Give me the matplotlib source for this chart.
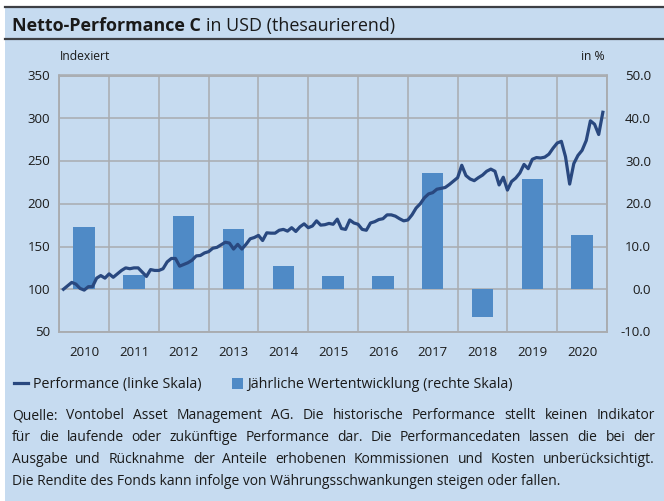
import numpy as np
import matplotlib
matplotlib.use("Agg")
import matplotlib.pyplot as plt
import matplotlib.transforms as mtrans
from matplotlib.patches import Rectangle
from matplotlib.lines import Line2D

plt.rcParams['font.family'] = ['Open Sans', 'DejaVu Sans']

# monthly performance index (left scale), Jan 2010 .. Nov 2020
perf = [100, 104, 108, 106, 101, 99, 103, 103, 113, 116, 113, 118,
        114, 118, 122, 125, 124, 125, 125, 120, 115, 123, 122, 122,
        124, 132, 136, 136, 127, 129, 131, 134, 139, 139.5, 142.5, 144,
        148, 149, 152, 155, 154, 147, 152.5, 147, 152.5, 159, 160.5, 163,
        157, 166, 165.6, 165.6, 169, 170, 168, 172, 167.6, 173, 176.5, 172,
        174, 180, 175, 175.5, 177, 176, 182, 171, 170, 181, 177.5, 176,
        170, 169, 177.5, 179, 181.5, 182.5, 187, 187, 185.5, 182.5, 180, 181,
        187, 195, 200, 207, 211.5, 213, 217, 218, 219, 222.5, 226.5, 230.5,
        245, 233, 229, 227, 230.5, 233.5, 238, 240.5, 238, 222, 231, 216,
        226, 230, 236, 246, 241, 252, 254, 253.5, 254.5, 258, 265, 271,
        273, 255, 223, 247, 256.5, 262.5, 274, 297, 293, 281, 307]

# yearly returns in % (right scale)
years = ["2010", "2011", "2012", "2013", "2014", "2015",
         "2016", "2017", "2018", "2019", "2020"]
yearly = [14.6, 3.3, 17.2, 14.1, 5.4, 3.1, 3.1, 27.2, -6.4, 25.9, 12.7]

left_ticks = [50, 100, 150, 200, 250, 300, 350]
right_ticks = [-10, 0, 10, 20, 30, 40, 50]

footnote = [
    "Quelle: Vontobel Asset Management AG. Die historische Performance stellt keinen Indikator",
    "für die laufende oder zukünftige Performance dar. Die Performancedaten lassen die bei der",
    "Ausgabe und Rücknahme der Anteile erhobenen Kommissionen und Kosten unberücksichtigt.",
    "Die Rendite des Fonds kann infolge von Währungsschwankungen steigen oder fallen.",
]

bg = "#c6dbf0"
navy = "#29487f"
barc = "#4f8ac6"
gridc = "#a9acb0"
txt = "#1a1a1a"
fs_tick = 9.5
fs_text = 10.0

W, H = 664, 502
fig = plt.figure(figsize=(W / 100, H / 100), dpi=100)
fig.patch.set_facecolor("white")

def fx(px): return px / W
def fy(py): return 1 - py / H

# panel background and header rules
fig.patches.append(Rectangle((fx(5), 0), 1 - fx(5), fy(7), transform=fig.transFigure,
                             facecolor=bg, edgecolor="none", zorder=-5))
fig.add_artist(Line2D([fx(5), 1], [fy(7.5), fy(7.5)], color="#3d3f44", lw=1.6))
fig.add_artist(Line2D([fx(5), 1], [fy(40), fy(40)], color="#3d3f44", lw=1.6))

t1 = fig.text(fx(12), fy(31), "Netto-Performance C", fontsize=12.9, fontweight="bold",
              color=txt, va="baseline")
fig.canvas.draw()
bb = t1.get_window_extent()
fig.text(bb.x1 / W + fx(5), fy(31), "in USD (thesaurierend)", fontsize=12.9,
         color=txt, va="baseline")

# axes: bars on the right scale underneath, line on the left scale on top
left, right, top, bottom = 59.3, 607, 76.5, 333
ax2 = fig.add_axes([fx(left), fy(bottom), fx(right - left), (bottom - top) / H])
ax = ax2.twinx()
ax.set_zorder(ax2.get_zorder() + 1)
ax.patch.set_visible(False)
ax2.set_facecolor(bg)

xc = np.arange(len(years)) + 0.5
ax2.bar(xc, yearly, width=0.43, color=barc, zorder=3)
ax2.set_ylim(-10, 50)
ax2.set_yticks(right_ticks)
ax2.set_yticklabels([])
ax2.set_xlim(0, 11)
ax2.set_xticks(np.arange(0, 12))
ax2.set_xticklabels([])
ax2.grid(True, color=gridc, lw=1.1, zorder=1)
ax2.set_axisbelow(True)

tr_x = mtrans.blended_transform_factory(ax2.transData, fig.transFigure)
for yl, xx in zip(years, xc):
    ax2.text(xx, fy(352), yl, transform=tr_x, ha="center", va="center",
             fontsize=fs_tick, color=txt)
tr_r = mtrans.blended_transform_factory(fig.transFigure, ax2.transData)
for v in right_ticks:
    ax2.text(fx(651), v, "%.1f" % v, transform=tr_r, ha="right", va="center",
             fontsize=fs_tick, color=txt)

xm = np.arange(1, len(perf) + 1) / 12.0
ax.plot(xm, perf, color=navy, lw=2.3, solid_joinstyle="round", zorder=5)
ax.set_ylim(50, 350)
ax.set_yticks([])
ax.set_xlim(0, 11)
tr_l = mtrans.blended_transform_factory(fig.transFigure, ax.transData)
for v in left_ticks:
    ax.text(fx(50), v, str(v), transform=tr_l, ha="right", va="center",
            fontsize=fs_tick, color=txt)

for a in (ax, ax2):
    a.tick_params(length=0)
    for s in a.spines.values():
        s.set_color(gridc)
        s.set_linewidth(1.1)

fig.text(fx(60), fy(57), "Indexiert", fontsize=8.7, color=txt, va="center")
fig.text(fx(605), fy(57), "in %", fontsize=8.7, color=txt, va="center", ha="right")

# legend
fig.add_artist(Line2D([fx(14), fx(28)], [fy(384), fy(384)], color=navy, lw=2.3))
fig.text(fx(33), fy(388), "Performance (linke Skala)", fontsize=10.3, color=txt,
         va="baseline")
fig.patches.append(Rectangle((fx(232), fy(390)), fx(11), 11 / H, transform=fig.transFigure,
                             facecolor=barc, edgecolor="none"))
fig.text(fx(247), fy(388), "Jährliche Wertentwicklung (rechte Skala)", fontsize=10.3,
         color=txt, va="baseline")

# justified footnote
fig.canvas.draw()
rend = fig.canvas.get_renderer()
x0, x1 = 12, 655
for i, line in enumerate(footnote):
    yy = fy(419 + 22 * i)
    if i == len(footnote) - 1:
        fig.text(fx(x0), yy, line, fontsize=fs_text, color=txt, va="baseline")
        continue
    words = line.split(" ")
    arts = [fig.text(0, yy, w, fontsize=fs_text, color=txt, va="baseline") for w in words]
    widths = [a.get_window_extent(rend).width for a in arts]
    gap = (x1 - x0 - sum(widths)) / (len(words) - 1)
    pos = x0
    for a, w in zip(arts, widths):
        a.set_x(fx(pos))
        pos += w + gap

fig.savefig("out.png", dpi=100, facecolor=fig.get_facecolor())
